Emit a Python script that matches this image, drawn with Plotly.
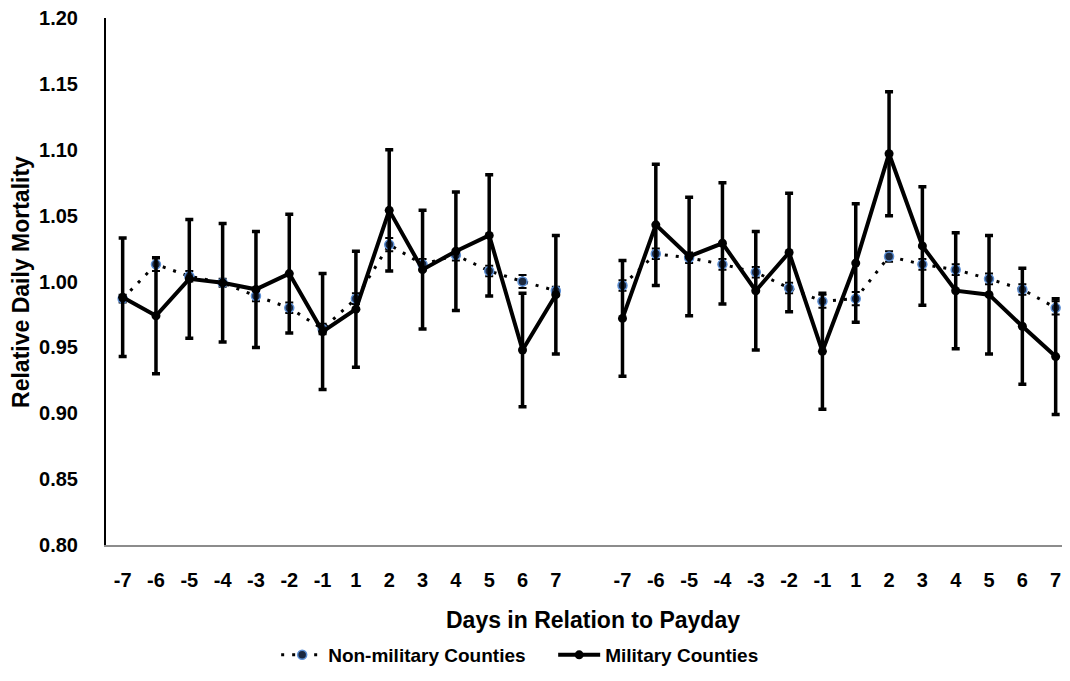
import plotly.graph_objects as go

days = ["-7", "-6", "-5", "-4", "-3", "-2", "-1", "1", "2", "3", "4", "5", "6", "7"]

non_mil_1 = [0.987, 1.013, 1.004, 0.999, 0.989, 0.980, 0.964, 0.987, 1.028, 1.013, 1.020, 1.008, 1.000, 0.993]
non_mil_1_err = [0.003, 0.005, 0.004, 0.003, 0.004, 0.004, 0.004, 0.004, 0.005, 0.004, 0.004, 0.004, 0.005, 0.003]
non_mil_2 = [0.997, 1.021, 1.018, 1.013, 1.007, 0.995, 0.985, 0.987, 1.019, 1.013, 1.009, 1.002, 0.994, 0.980]
non_mil_2_err = [0.004, 0.004, 0.004, 0.004, 0.004, 0.004, 0.005, 0.005, 0.004, 0.004, 0.004, 0.004, 0.004, 0.005]

mil_1 = [0.988, 0.974, 1.002, 0.999, 0.994, 1.006, 0.962, 0.979, 1.054, 1.009, 1.023, 1.035, 0.948, 0.990]
mil_1_err = [0.045, 0.044, 0.045, 0.045, 0.044, 0.045, 0.044, 0.044, 0.046, 0.045, 0.045, 0.046, 0.043, 0.045]
mil_2 = [0.972, 1.043, 1.019, 1.029, 0.993, 1.022, 0.947, 1.014, 1.097, 1.027, 0.993, 0.990, 0.966, 0.943]
mil_2_err = [0.044, 0.046, 0.045, 0.046, 0.045, 0.045, 0.044, 0.045, 0.047, 0.045, 0.044, 0.045, 0.044, 0.044]

y_ticks = [0.80, 0.85, 0.90, 0.95, 1.00, 1.05, 1.10, 1.15, 1.20]

# positions: two groups of 14 days with one empty slot between them
n = len(days)
pos = list(range(n)) + [None] + [n + 1 + i for i in range(n)]
x_all = list(range(2 * n + 1))
tick_pos = [p for p in pos if p is not None]
tick_text = days + days


def join(a, b):
    return a + [None] + b


def join_err(a, b):
    return a + [0] + b


FONT = "Arial, 'Liberation Sans', sans-serif"

fig = go.Figure()

fig.add_trace(go.Scatter(
    x=x_all, y=join(non_mil_1, non_mil_2),
    mode="lines+markers", name="Non-military Counties",
    line=dict(color="black", width=3, dash="3px,8px"),
    marker=dict(size=9, color="#1c2940", line=dict(color="#5b8fd6", width=1.5)),
    error_y=dict(type="data", array=join_err(non_mil_1_err, non_mil_2_err),
                 color="black", thickness=2, width=4),
    connectgaps=False,
))

fig.add_trace(go.Scatter(
    x=x_all, y=join(mil_1, mil_2),
    mode="lines+markers", name="Military Counties",
    line=dict(color="black", width=4),
    marker=dict(size=9, color="black"),
    error_y=dict(type="data", array=join_err(mil_1_err, mil_2_err),
                 color="black", thickness=3.5, width=4),
    connectgaps=False,
))

# page body has an 8px margin on each side, so the figure is sized to fit the window
fig.update_layout(
    width=1054, height=660,
    margin=dict(l=98, r=0, t=10, b=123, autoexpand=False),
    paper_bgcolor="white", plot_bgcolor="white",
    font=dict(family=FONT, size=20, color="black", weight=700),
    showlegend=True,
    legend=dict(orientation="h", x=0.178, xanchor="left", y=-0.2087, yanchor="middle",
                font=dict(size=19, weight=700), itemwidth=42, traceorder="normal",
                entrywidth=220, entrywidthmode="pixels"),
    xaxis=dict(
        range=[-0.5, 28.19], tickmode="array", tickvals=tick_pos, ticktext=tick_text,
        showgrid=False, zeroline=False, showline=True, linecolor="#8c8c8c", linewidth=2,
        ticks="", ticklabelstandoff=16, ticklabeloverflow="allow", automargin=False,
        tickfont=dict(size=20, weight=700),
    ),
    yaxis=dict(
        range=[0.80, 1.20], tickmode="array", tickvals=y_ticks,
        tickformat=".2f", showgrid=False, zeroline=False, showline=True,
        linecolor="black", linewidth=2, ticks="", ticklabelstandoff=22,
        ticklabeloverflow="allow",
        tickfont=dict(size=20, weight=700), automargin=False,
    ),
    annotations=[
        dict(text="Days in Relation to Payday", xref="paper", yref="paper",
             x=0.509, y=-0.1423, xanchor="center", yanchor="middle", showarrow=False,
             font=dict(size=23, weight=700, family=FONT)),
        dict(text="Relative Daily Mortality", xref="paper", yref="paper",
             x=-0.0895, y=0.5, xanchor="center", yanchor="middle", showarrow=False,
             textangle=-90, font=dict(size=23, weight=700, family=FONT)),
    ],
)

fig.write_html("out.html")
